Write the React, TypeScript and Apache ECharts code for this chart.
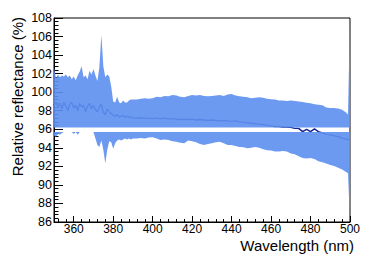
import React, { useEffect, useRef } from "react";
import * as echarts from "echarts";

// Wavelength sample positions (nm)
const wavelength = [
  350, 351, 352, 353, 354, 355, 356, 357, 358, 359,
  360, 361, 362, 363, 364, 365, 366, 367, 368, 369,
  370, 371, 372, 373, 374, 375, 376, 377, 378, 379,
  380, 381, 382, 383, 384, 385, 386, 387, 388, 389, 390,
  392, 394, 396, 398, 400, 402, 404, 406, 408, 410,
  412, 414, 416, 418, 420, 422, 424, 426, 428, 430,
  432, 434, 436, 438, 440, 442, 444, 446, 448, 450,
  452, 454, 456, 458, 460, 462, 464, 466, 468, 470,
  472, 474, 476, 478, 480, 482, 484, 486, 488, 490,
  492, 494, 496, 498, 499, 500,
];

// Upper edge of the uncertainty band (%)
const upperBand = [
  102.6, 101.5, 101.9, 101.6, 101.8, 101.7, 101.9, 101.6, 101.8, 101.4,
  101.7, 101.3, 101.8, 102.2, 102.8, 101.6, 101.8, 101.4, 102.3, 101.9,
  102.5, 101.8, 101.2, 102.7, 106.2, 102.8, 101.6, 101.9, 101.7, 100.6,
  99.0, 98.9, 99.5, 98.9, 98.8, 99.1, 98.9, 98.9, 99.1, 99.2, 99.2,
  99.2, 99.3, 99.35, 99.3, 99.35, 99.5, 99.45, 99.6, 99.55, 99.7,
  99.65, 99.5, 99.45, 99.6, 99.7, 99.65, 99.7, 99.6, 99.55, 99.6,
  99.65, 99.7, 99.6, 99.75, 99.8, 99.65, 99.55, 99.5, 99.45, 99.35,
  99.4, 99.45, 99.4, 99.3, 99.25, 99.2, 99.1, 99.1, 99.05, 99.1,
  99.05, 99.0, 98.95, 98.85, 98.8, 98.7, 98.65, 98.6, 98.35, 98.3,
  98.3, 98.25, 98.1, 97.8, 97.6, 108,
];

// Lower edge of the uncertainty band (%)
const lowerBand = [
  95.3, 95.2, 95.5, 95.4, 95.6, 95.9, 96.1, 96.1, 96.0, 95.9,
  95.5, 95.8, 95.4, 95.9, 96.1, 96.1, 96.0, 96.1, 96.0, 96.1,
  95.9, 95.0, 94.3, 94.1, 94.8, 93.8, 92.3, 93.8, 94.7, 94.6,
  93.9, 94.5, 94.8, 94.9, 94.8, 94.9, 95.0, 94.9, 95.0, 94.9, 95.0,
  95.0, 95.05, 95.0, 95.1, 95.15, 95.0, 94.85, 94.9, 94.85, 94.7,
  94.65, 94.55, 94.5, 94.8, 94.7, 94.6, 94.4, 94.3, 94.4, 94.5,
  94.6, 94.65, 94.5, 94.3, 94.3, 94.2, 94.1, 94.05, 93.95, 94.0,
  94.1, 94.0, 93.85, 93.75, 93.7, 93.6, 93.6, 93.65, 93.6, 93.4,
  93.3, 93.1, 92.9, 92.85, 92.9, 92.8, 92.55, 92.45, 92.3, 92.15,
  92.05, 91.85, 91.65, 91.4, 91.25, 86,
];

// Central reflectance curve (%)
const reflectance = [
  98.6, 98.9, 98.4, 98.8, 98.2, 98.9, 98.5, 98.0, 98.7, 98.9,
  98.3, 98.6, 98.0, 98.8, 98.4, 98.6, 97.9, 98.5, 98.8, 98.2,
  98.6, 98.1, 97.9, 98.4, 98.7, 97.8, 97.6, 98.2, 97.9, 97.7,
  97.5, 97.4, 97.6, 97.3, 97.4, 97.5, 97.3, 97.4, 97.3, 97.3, 97.2,
  97.2, 97.25, 97.2, 97.2, 97.15, 97.2, 97.15, 97.2, 97.1, 97.15,
  97.1, 97.05, 97.1, 97.05, 97.1, 97.0, 97.05, 97.0, 96.95, 97.0,
  96.95, 96.9, 96.95, 96.9, 96.85, 96.9, 96.8, 96.75, 96.7, 96.65,
  96.6, 96.55, 96.5, 96.45, 96.35, 96.3, 96.3, 96.25, 96.25, 96.2,
  96.1, 96.1, 95.75, 96.0, 95.75, 96.05, 95.75, 95.6, 95.45, 95.4,
  95.3, 95.2, 95.05, 94.95, 94.9, 94.9,
];

// White gap through the band (%)
const gapLow = 95.7;
const gapHigh = 96.2;

const xMajorTicks = [360, 380, 400, 420, 440, 460, 480, 500];
const xMinorTicks = [
  352, 356, 364, 368, 372, 376, 384, 388, 392, 396, 404, 408, 412, 416,
  424, 428, 432, 436, 444, 448, 452, 456, 464, 468, 472, 476, 484, 488,
  492, 496,
];

const FONT = "'Liberation Sans', Arial, Helvetica, sans-serif";
const BAND = "#5f90f0";

export default function App() {
  const ref = useRef<HTMLDivElement>(null);

  useEffect(() => {
    if (!ref.current) return;
    const chart = echarts.init(ref.current, null, { renderer: "svg" });

    const bandData = wavelength.map((x, i) => [x, lowerBand[i], upperBand[i]]);
    const central = wavelength.map((x, i) => [x, reflectance[i]]);

    const renderBand = (params: any, api: any) => {
      if (params.dataIndex !== 0) return null;
      const upperPts: number[][] = [];
      const upperBase: number[][] = [];
      const lowerPts: number[][] = [];
      const lowerBase: number[][] = [];
      for (let i = 0; i < wavelength.length; i++) {
        const x = wavelength[i];
        upperPts.push(api.coord([x, Math.max(upperBand[i], gapHigh)]));
        upperBase.push(api.coord([x, gapHigh]));
        lowerPts.push(api.coord([x, Math.min(lowerBand[i], gapLow)]));
        lowerBase.push(api.coord([x, gapLow]));
      }
      const style = { fill: BAND, stroke: null, opacity: 0.91 };
      return {
        type: "group",
        children: [
          {
            type: "polygon",
            shape: { points: upperPts.concat(upperBase.slice().reverse()) },
            style,
          },
          {
            type: "polygon",
            shape: { points: lowerPts.concat(lowerBase.slice().reverse()) },
            style,
          },
        ],
      };
    };

    chart.setOption({
      animation: false,
      grid: {
        left: 54,
        right: 9,
        top: 18,
        bottom: 38,
        show: true,
        borderColor: "#000",
        borderWidth: 1,
        backgroundColor: "transparent",
      },
      xAxis: [
        {
          type: "value",
          min: 350,
          max: 500,
          position: "bottom",
          axisLine: { show: true, lineStyle: { color: "#000", width: 1 } },
          axisTick: {
            show: true,
            inside: true,
            length: 6,
            customValues: xMajorTicks,
            lineStyle: { color: "#000" },
          },
          axisLabel: {
            customValues: xMajorTicks,
            fontSize: 12,
            lineHeight: 11,
            color: "#000",
            margin: 1,
            fontFamily: FONT,
          },
          splitLine: { show: false },
        },
        {
          type: "value",
          min: 350,
          max: 500,
          position: "bottom",
          axisLine: { show: false },
          axisTick: {
            show: true,
            inside: true,
            length: 3,
            customValues: xMinorTicks,
            lineStyle: { color: "#000" },
          },
          axisLabel: { show: false },
          splitLine: { show: false },
        },
      ],
      yAxis: {
        type: "value",
        min: 86,
        max: 108,
        interval: 2,
        axisLine: { show: true, lineStyle: { color: "#000", width: 1 } },
        axisTick: { show: true, inside: true, length: 9, lineStyle: { color: "#000" } },
        minorTick: { show: true, splitNumber: 5, length: 4.5, lineStyle: { color: "#000" } },
        axisLabel: { fontSize: 12.5, color: "#000", margin: 2, fontFamily: FONT },
        splitLine: { show: false },
      },
      graphic: [
        {
          type: "text",
          x: 17,
          y: 17,
          rotation: Math.PI / 2,
          silent: true,
          style: {
            text: "Relative reflectance (%)",
            font: `15px ${FONT}`,
            fill: "#000",
            align: "right",
            verticalAlign: "middle",
          },
        },
        {
          type: "text",
          x: 354,
          y: 245,
          silent: true,
          style: {
            text: "Wavelength (nm)",
            font: `15px ${FONT}`,
            lineHeight: 13,
            fill: "#000",
            align: "right",
            verticalAlign: "middle",
          },
        },
      ],
      series: [
        {
          name: "reflectance",
          type: "line",
          data: central,
          symbol: "none",
          z: 1,
          lineStyle: { color: "#14228f", width: 1.4 },
        },
        {
          name: "band",
          type: "custom",
          data: bandData,
          z: 2,
          silent: true,
          encode: { x: 0, y: [1, 2] },
          renderItem: renderBand,
        },
      ],
    });

    return () => chart.dispose();
  }, []);

  return (
    <div
      ref={ref}
      style={{ position: "absolute", left: 0, top: 0, width: 363, height: 260 }}
    />
  );
}
